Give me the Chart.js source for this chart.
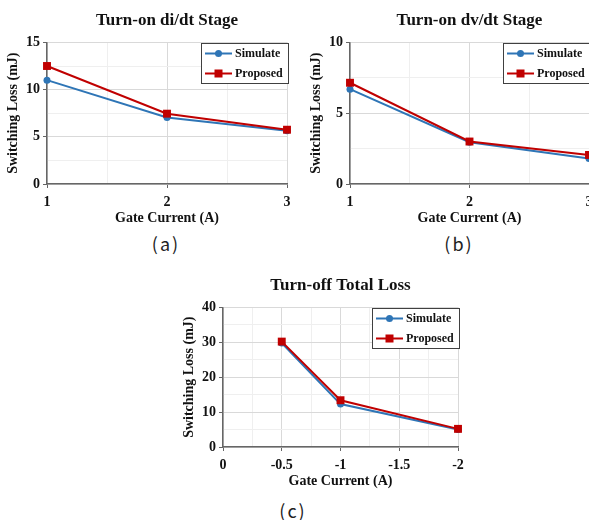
<!DOCTYPE html>
<html>
<head>
<meta charset="utf-8">
<script src="https://cdn.jsdelivr.net/npm/chart.js@4.4.0/dist/chart.umd.min.js"></script>
<style>
body { margin: 0; width: 589px; height: 520px; overflow: hidden; background: #fff; position: relative; }
canvas { position: absolute; }
.cap { position: absolute; font-family: "Noto Sans CJK KR", "Noto Sans"; font-size: 18px; color: #222;
       line-height: 20px; transform: translate(-50%, -50%); letter-spacing: 2px; white-space: nowrap; }
</style>
</head>
<body>
<canvas id="chartA" width="300" height="230" style="left:0;top:0"></canvas>
<canvas id="chartB" width="300" height="230" style="left:303px;top:0"></canvas>
<canvas id="chartC" width="300" height="228" style="left:176px;top:265px"></canvas>
<div class="cap" style="left:166px;top:243px">(a)</div>
<div class="cap" style="left:459px;top:243px">(b)</div>
<div class="cap" style="left:293px;top:510px">(c)</div>
<script>
// values
const gateOn = [1, 2, 3];
const diSim = [11.0, 7.05, 5.65];
const diProp = [12.5, 7.45, 5.75];
const dvSim = [6.7, 2.95, 1.8];
const dvProp = [7.15, 3.0, 2.05];
const gateOff = [-0.5, -1, -2];
const offSim = [29.8, 12.3, 5.0];
const offProp = [30.2, 13.4, 5.2];
const seriesNames = ['Simulate', 'Proposed'];

const serif = 'Liberation Serif';
const BLUE = '#2E75B6';
const RED = '#C00000';

// boxed legend like the excel one: line with marker through it
const boxLegend = {
    id: 'boxLegend',
    afterDatasetsDraw(chart) {
        const ctx = chart.ctx;
        const area = chart.chartArea;
        const sets = chart.data.datasets;
        ctx.save();
        ctx.font = 'bold 12px "' + serif + '"';
        const tw = Math.max(...sets.map(d => ctx.measureText(d.label).width));
        const w = Math.round(4 + 27 + 3 + tw + 5), h = 40;
        const x = Math.round(area.right + 1 - w), y = Math.round(area.top + 1);
        ctx.fillStyle = '#fff';
        ctx.fillRect(x, y, w, h);
        ctx.strokeStyle = '#404040';
        ctx.lineWidth = 1;
        ctx.strokeRect(x + 0.5, y + 0.5, w, h);
        sets.forEach((d, i) => {
            const cy = y + 10.5 + i * 20;
            ctx.strokeStyle = d.borderColor;
            ctx.lineWidth = 2;
            ctx.beginPath();
            ctx.moveTo(x + 4, cy);
            ctx.lineTo(x + 31, cy);
            ctx.stroke();
            ctx.fillStyle = d.borderColor;
            if (d.pointStyle === 'rect') {
                ctx.fillRect(x + 17.5 - 4, cy - 4, 8, 8);
            } else {
                ctx.beginPath();
                ctx.arc(x + 17.5, cy, 3.5, 0, Math.PI * 2);
                ctx.fill();
            }
            ctx.fillStyle = '#111';
            ctx.textBaseline = 'middle';
            ctx.textAlign = 'left';
            ctx.fillText(d.label, x + 34, cy + 0.5);
        });
        ctx.restore();
    }
};

function makeChart(id, title, xs, sim, prop, opt) {
    const ctx = document.getElementById(id).getContext('2d');
    const pts = (arr) => xs.map((x, i) => ({x: x, y: arr[i]}));
    const gridColor = (major) => (c) => {
        const v = c.tick ? c.tick.value : 0;
        return Math.abs(v % major) < 1e-9 ? '#d9d9d9' : '#efefef';
    };
    const tickColor = (major) => (c) => {
        const v = c.tick ? c.tick.value : 0;
        return Math.abs(v % major) < 1e-9 ? '#666' : 'rgba(0,0,0,0)';
    };
    const tickFont = {family: serif, size: 14, weight: 'bold'};
    return new Chart(ctx, {
        type: 'line',
        data: {
            datasets: [{
                label: seriesNames[0],
                data: pts(sim),
                borderColor: BLUE,
                backgroundColor: BLUE,
                borderWidth: 2,
                pointStyle: 'circle',
                pointRadius: 3.5,
                pointBorderWidth: 0,
                tension: 0,
                clip: false,
                order: 2
            }, {
                label: seriesNames[1],
                data: pts(prop),
                borderColor: RED,
                backgroundColor: RED,
                borderWidth: 2,
                pointStyle: 'rect',
                pointRadius: 5.6,
                pointBorderWidth: 0,
                tension: 0,
                clip: false,
                order: 1
            }]
        },
        options: {
            responsive: false,
            animation: false,
            layout: {padding: {left: 0, right: opt.padRight, top: 0, bottom: 0}},
            plugins: {
                legend: {display: false},
                tooltip: {enabled: false},
                title: {
                    display: true,
                    text: title,
                    fullSize: false,
                    color: '#111',
                    font: {family: serif, size: 17, weight: 'bold'},
                    padding: {top: 10, bottom: 12}
                }
            },
            scales: {
                x: {
                    type: 'linear',
                    min: opt.xMin,
                    max: opt.xMax,
                    reverse: !!opt.reverse,
                    afterFit: (s) => { s.height = 46; },
                    border: {color: '#666', width: 1.5},
                    grid: {color: gridColor(opt.xMajor), tickColor: tickColor(opt.xMajor), tickLength: 4},
                    ticks: {
                        stepSize: opt.xStep,
                        autoSkip: false,
                        maxRotation: 0,
                        padding: 6,
                        color: '#111',
                        font: tickFont,
                        callback: (v) => Math.abs(v % opt.xMajor) < 1e-9 ? String(v) : ''
                    },
                    title: {
                        display: true,
                        text: 'Gate Current (A)',
                        color: '#111',
                        font: {family: serif, size: 14, weight: 'bold'},
                        padding: {top: 0, bottom: 3}
                    }
                },
                y: {
                    min: 0,
                    max: opt.yMax,
                    afterFit: (s) => { s.width = 47; },
                    border: {color: '#666', width: 1.5},
                    grid: {color: gridColor(opt.yMajor), tickColor: tickColor(opt.yMajor), tickLength: 4},
                    ticks: {
                        stepSize: opt.yStep,
                        autoSkip: false,
                        padding: 3,
                        color: '#111',
                        font: tickFont,
                        callback: (v) => Math.abs(v % opt.yMajor) < 1e-9 ? String(v) : ''
                    },
                    title: {
                        display: true,
                        text: 'Switching Loss (mJ)',
                        color: '#111',
                        font: {family: serif, size: 14, weight: 'bold'},
                        padding: {top: 5, bottom: 0}
                    }
                }
            }
        },
        plugins: [boxLegend]
    });
}

makeChart('chartA', 'Turn-on di/dt Stage', gateOn, diSim, diProp,
    {padRight: 13, xMin: 1, xMax: 3, xStep: 0.5, xMajor: 1, yMax: 15, yStep: 2.5, yMajor: 5});
makeChart('chartB', 'Turn-on dv/dt Stage', gateOn, dvSim, dvProp,
    {padRight: 14, xMin: 1, xMax: 3, xStep: 0.5, xMajor: 1, yMax: 10, yStep: 2.5, yMajor: 5});
makeChart('chartC', 'Turn-off Total Loss', gateOff, offSim, offProp,
    {padRight: 18, xMin: -2, xMax: 0, xStep: 0.25, xMajor: 0.5, reverse: true, yMax: 40, yStep: 5, yMajor: 10});
</script>
</body>
</html>
